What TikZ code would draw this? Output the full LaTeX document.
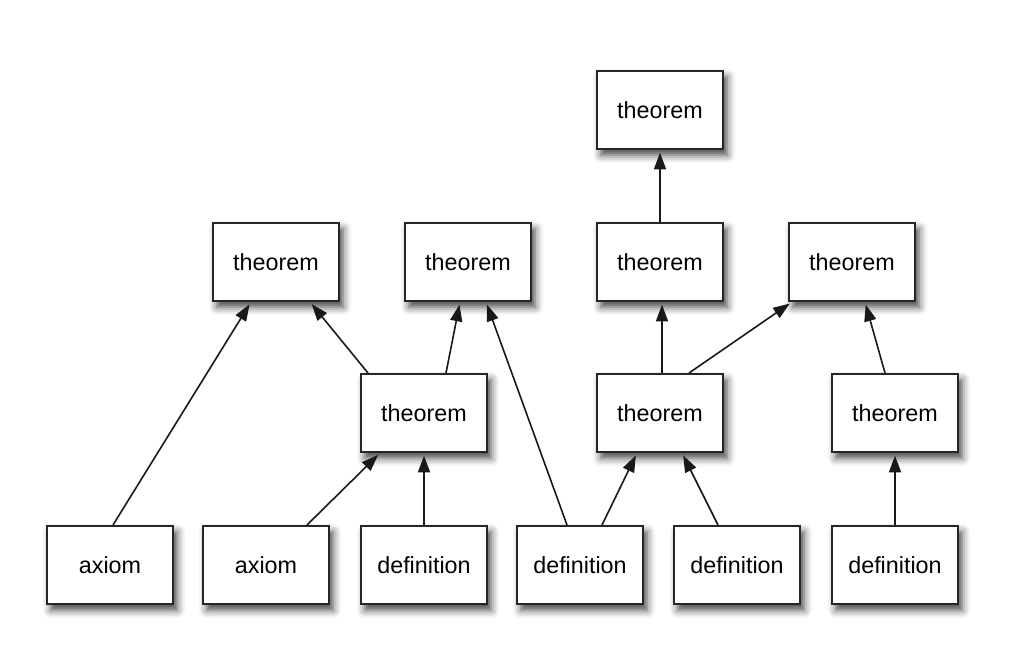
\documentclass[tikz,border=0pt]{standalone}
\usepackage{fontspec}
\setmainfont{Liberation Sans}
\usetikzlibrary{arrows.meta,shadows.blur,calc}

\begin{document}
\begin{tikzpicture}[x=0.75pt,y=0.75pt,yscale=-1,xscale=1,
  box/.style={draw=black!85,line width=1.5pt,fill=white,minimum width=94.5pt,minimum height=58.5pt,inner sep=0pt,
    font=\fontsize{17.5}{20}\selectfont,
    blur shadow={shadow xshift=3pt,shadow yshift=-4.5pt,shadow blur radius=6pt,shadow opacity=75}},
  link/.style={line width=1.2pt,draw=black!90,-{Triangle[length=12.5pt,width=9pt]},shorten >=2pt}]
\useasboundingbox (0,0) rectangle (1009,654);

% Top row
\node [box] (t0) at (660,110) {theorem};
% Second row
\node [box] (ta) at (276,262) {theorem};
\node [box] (tb) at (468,262) {theorem};
\node [box] (tc) at (660,262) {theorem};
\node [box] (td) at (852,262) {theorem};
% Third row
\node [box] (te) at (424,413) {theorem};
\node [box] (tf) at (660,413) {theorem};
\node [box] (tg) at (895,413) {theorem};
% Bottom row
\node [box] (a1) at (110,565) {axiom};
\node [box] (a2) at (266,565) {axiom};
\node [box] (d1) at (424,565) {definition};
\node [box] (d2) at (580,565) {definition};
\node [box] (d3) at (737,565) {definition};
\node [box] (d4) at (895,565) {definition};

% Links
\draw [link] ($(a1.north)+(3,0)$) -- ($(ta.south)+(-25,0)$);
\draw [link] ($(te.north)+(-56,0)$) -- ($(ta.south)+(34,0)$);
\draw [link] ($(te.north)+(22,0)$) -- ($(tb.south)+(-8,0)$);
\draw [link] ($(d2.north)+(-13,0)$) -- ($(tb.south)+(18,0)$);
\draw [link] ($(a2.north)+(41,0)$) -- ($(te.south)+(-44,0)$);
\draw [link] (d1) -- (te);
\draw [link] ($(d2.north)+(22,0)$) -- ($(tf.south)+(-23,0)$);
\draw [link] ($(d3.north)+(-19,0)$) -- ($(tf.south)+(22,0)$);
\draw [link] ($(tf.north)+(2,0)$) -- ($(tc.south)+(2,0)$);
\draw [link] ($(tf.north)+(29,0)$) -- ($(td.south)+(-60,0)$);
\draw [link] ($(tg.north)+(-10,0)$) -- ($(td.south)+(13,0)$);
\draw [link] (d4) -- (tg);
\draw [link] (tc) -- (t0);
\end{tikzpicture}
\end{document}
